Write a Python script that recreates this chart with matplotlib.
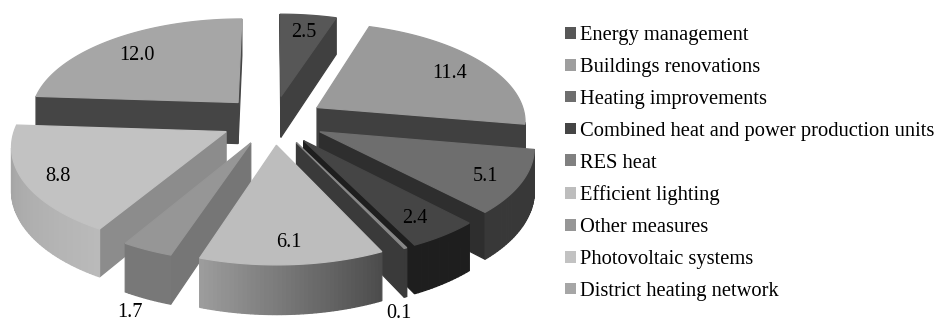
"""Exploded 3D pie of energy measures, drawn by hand on a pixel-sized axes."""
import matplotlib
matplotlib.use("Agg")
import matplotlib.pyplot as plt
from matplotlib.patches import Patch
import numpy as np

measures = [
    "Energy management",
    "Buildings renovations",
    "Heating improvements",
    "Combined heat and power production units",
    "RES heat",
    "Efficient lighting",
    "Other measures",
    "Photovoltaic systems",
    "District heating network",
]
values = [2.5, 11.4, 5.1, 2.4, 0.1, 6.1, 1.7, 8.8, 12.0]

top_grey = [0x57, 0x9a, 0x6e, 0x45, 0x88, 0xbd, 0x96, 0xc2, 0xa6]
start_wall_grey = [0x40, 0x40, 0x2e, 0x1e, 0x3a, 0x50, 0x76, 0x8c, 0x45]
end_wall_grey = [0x40, 0x40, 0x2e, 0x1e, 0x3a, 0x50, 0x76, 0x8c, 0x45]
# rim shading at the start and end of each slice's arc
rim_grey = [
    (0x40, 0x40), (0x40, 0x40), (0x38, 0x38), (0x1e, 0x1e), (0x3a, 0x3a),
    (0x4c, 0x9c), (0x78, 0x78), (0xba, 0xa0), (0x45, 0x45),
]
legend_grey = [0x57, 0x9e, 0x6e, 0x45, 0x80, 0xbd, 0x96, 0xc2, 0xa6]

# projection, in output pixels
CX, CY = 273, 120
A, B = 209, 98
PERSP = 0.124
HEIGHT = 42
EXPLODE = 0.25
# how far along each slice its label sits
label_r = [0.8, 0.8, 0.83, 0.81, 0.95, 0.81, 1.14, 0.84, 0.79]
OUTSIDE = {0.1: 23, 1.7: -4}


def project(x, y, z=0.0):
    s = 1 / (1 + PERSP * y)
    return CX + A * x * s, CY - B * y * s + HEIGHT * z * s


def grey(v):
    return "#{0:02x}{0:02x}{0:02x}".format(int(round(v)))


def face(ax, pts, v, zorder):
    xs, ys = zip(*pts)
    c = grey(v)
    ax.fill(xs, ys, facecolor=c, edgecolor=c, lw=0.9, zorder=zorder)


def facing(pts):
    # negative shoelace in y-down coordinates means the wall looks at the camera
    xy = np.array(pts)
    a = np.sum(xy[:, 0] * np.roll(xy[:, 1], -1) - np.roll(xy[:, 0], -1) * xy[:, 1])
    return a < 0


def wall(ax, p, q, v, zorder):
    pts = [project(*p), project(*q), project(*q, 1), project(*p, 1)]
    if facing(pts):
        face(ax, pts, v, zorder)


fig = plt.figure(figsize=(9.39, 3.2), dpi=100)
ax = fig.add_axes([0, 0, 1, 1])
ax.set_xlim(0, 939)
ax.set_ylim(320, 0)
ax.axis("off")

angles = np.cumsum([0] + values) / sum(values) * 2 * np.pi
mids = (angles[:-1] + angles[1:]) / 2

# back slices first so the nearer ones cover them
for rank, i in enumerate(np.argsort(-np.cos(mids))):
    a0, a1 = angles[i], angles[i + 1]
    ox, oy = EXPLODE * np.sin(mids[i]), EXPLODE * np.cos(mids[i])
    z = 10 + rank
    arc = np.linspace(a0, a1, max(int(np.degrees(a1 - a0)), 2) + 1)
    rim = [(ox + np.sin(t), oy + np.cos(t)) for t in arc]
    apex = (ox, oy)

    wall(ax, apex, rim[0], start_wall_grey[i], z)
    wall(ax, rim[-1], apex, end_wall_grey[i], z)
    for k in range(len(rim) - 1):
        f = k / max(len(rim) - 2, 1)
        v = rim_grey[i][0] + (rim_grey[i][1] - rim_grey[i][0]) * f
        wall(ax, rim[k], rim[k + 1], v, z)
    face(ax, [project(*apex)] + [project(*p) for p in rim], top_grey[i], z)

    r = label_r[i]
    lp = (ox + r * np.sin(mids[i]), oy + r * np.cos(mids[i]))
    if values[i] in OUTSIDE:
        lx, ly = project(*lp, 1)
        ly += OUTSIDE[values[i]]
    else:
        lx, ly = project(*lp)
        ly += 3
    ax.text(lx, ly, "{:.1f}".format(values[i]), ha="center", va="center", fontsize=14.6,
            family="Liberation Serif", color="black", zorder=50)

handles = [Patch(facecolor=grey(v), edgecolor="none") for v in legend_grey]
ax.legend(handles, measures, loc="upper left", bbox_to_anchor=(557 / 939, 1 - 18 / 320),
          frameon=False, ncol=1, prop={"family": "Liberation Serif", "size": 14.8},
          handlelength=0.5, handleheight=0.5, handletextpad=0.2, labelspacing=0.625,
          borderpad=0, borderaxespad=0.4)

fig.savefig("out.png", dpi=100)
